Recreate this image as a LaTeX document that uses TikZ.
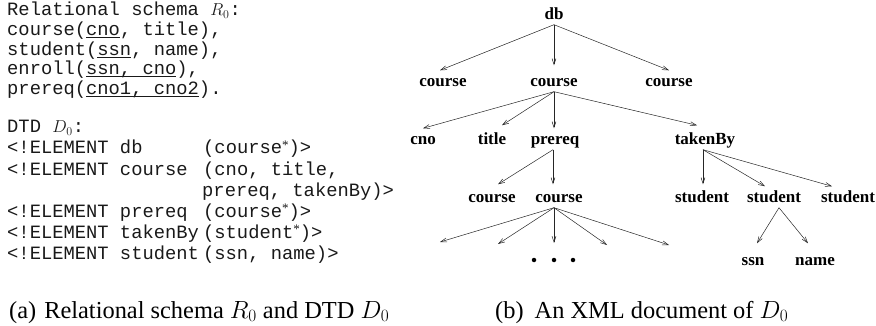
\documentclass[tikz,border=0pt]{standalone}
\usepackage{fontspec}
\setmainfont{Liberation Serif}
\setmonofont{Liberation Mono}
\usetikzlibrary{arrows.meta}
\newcommand{\ulx}[1]{$\underline{\smash{\hbox{#1}}}$}
\newcommand{\kstar}{\raisebox{5pt}{\fontsize{13}{13}\selectfont\rmfamily *}}
\begin{document}
\begin{tikzpicture}[x=1pt,y=-1pt,
  lbl/.style={font=\fontsize{17}{17}\selectfont\bfseries, inner xsep=0pt, inner ysep=4.5pt, text height=12pt, text depth=0pt, anchor=base},
  arr/.style={draw=black!85, line width=0.5pt, -{Straight Barb[length=6pt,width=4pt]}},
  mono/.style={font=\fontsize{18.8}{18.8}\selectfont\ttfamily, text=black!90, inner sep=0pt, anchor=base west},
  captext/.style={font=\fontsize{24.4}{24.4}\selectfont, inner sep=0pt, anchor=base west},
  dot/.style={circle, fill=black, inner sep=0pt, minimum size=4.5pt}]
\useasboundingbox (0,0) rectangle (876,326);

% left column
\node[mono] (r0) at (7,16) {Relational schema $R_0$:};
\node[mono] (r1) at (7,36) {course(\ulx{cno}, title),};
\node[mono] (r2) at (7,55.5) {student(\ulx{ssn}, name),};
\node[mono] (r3) at (7,75) {enroll(\ulx{ssn, cno}),};
\node[mono] (r4) at (7,94.5) {prereq(\ulx{cno1, cno2}).};

\node[mono] (dtd) at (7,133) {DTD $D_0$:};
\node[mono] (l1) at (7,154) {\makebox[196pt][l]{<!ELEMENT db}(course\kstar)>};
\node[mono] (l2) at (7,175.3) {\makebox[196pt][l]{<!ELEMENT course}(cno, title,};
\node[mono] (l2b) at (202,196.6) {prereq, takenBy)>};
\node[mono] (l3) at (7,217.5) {\makebox[196pt][l]{<!ELEMENT prereq}(course\kstar)>};
\node[mono] (l4) at (7,238.5) {\makebox[196pt][l]{<!ELEMENT takenBy}(student\kstar)>};
\node[mono] (l5) at (7,259.5) {\makebox[196pt][l]{<!ELEMENT student}(ssn, name)>};

% tree
\node[lbl] (db) at (554,20) {db};
\node[lbl] (c1) at (443,87) {course};
\node[lbl] (c2) at (554,87) {course};
\node[lbl] (c3) at (669,87) {course};
\node[lbl] (cno) at (423,145) {cno};
\node[lbl] (title) at (492,145) {title};
\node[lbl] (prereq) at (555,145) {prereq};
\node[lbl] (taken) at (705,145) {takenBy};
\node[lbl] (ca) at (492,203) {course};
\node[lbl] (cb) at (559,203) {course};
\node[lbl] (s1) at (702,203) {student};
\node[lbl] (s2) at (774,203) {student};
\node[lbl] (s3) at (848,203) {student};
\node[lbl] (ssn) at (753,265) {ssn};
\node[lbl] (nm) at (815,265) {name};

\node[dot] (d1) at (534,260) {};
\node[dot] (d2) at (554,260) {};
\node[dot] (d3) at (573,260) {};

\coordinate (e1) at (440,242);
\coordinate (e2) at (498,244);
\coordinate (e3) at (554,243);
\coordinate (e4) at (607,245);
\coordinate (e5) at (669,245);

\draw[arr] (db.south) -- ([xshift=-3pt]c1.north);
\draw[arr] (db.south) -- ([yshift=5pt]c2.north);
\draw[arr] (db.south) -- (c3.north);

\draw[arr] (c2.south) -- (cno.north);
\draw[arr] (c2.south) -- ([xshift=10pt,yshift=3pt]title.north);
\draw[arr] (c2.south) -- ([xshift=-1pt]prereq.north);
\draw[arr] (c2.south) -- ([xshift=-8pt,yshift=3pt]taken.north);

\draw[arr] ([xshift=-2pt]prereq.south) -- ([xshift=6pt,yshift=2pt]ca.north);
\draw[arr] ([xshift=-2pt]prereq.south) -- ([xshift=-6pt,yshift=2pt]cb.north);

\draw[arr] ([xshift=-2pt]taken.south) -- ([xshift=1pt,yshift=2pt]s1.north);
\draw[arr] ([xshift=-2pt]taken.south) -- ([xshift=-9pt]s2.north);
\draw[arr] ([xshift=-2pt]taken.south) -- ([xshift=-16pt]s3.north);

\foreach \e in {e1,e2,e3,e4,e5}
  \draw[arr] ([xshift=-5pt]cb.south) -- (\e);

\draw[arr] ([xshift=5pt]s2.south) -- ([xshift=4pt,yshift=5pt]ssn.north);
\draw[arr] ([xshift=5pt]s2.south) -- ([xshift=-7pt,yshift=5pt]nm.north);

% captions
\node[captext] (capa) at (9,318) {(a)\hspace{8pt}Relational schema $R_0$ and DTD $D_0$};
\node[captext] (capb) at (495,318) {(b)\hspace{11pt}An XML document of $D_0$};
\end{tikzpicture}
\end{document}
